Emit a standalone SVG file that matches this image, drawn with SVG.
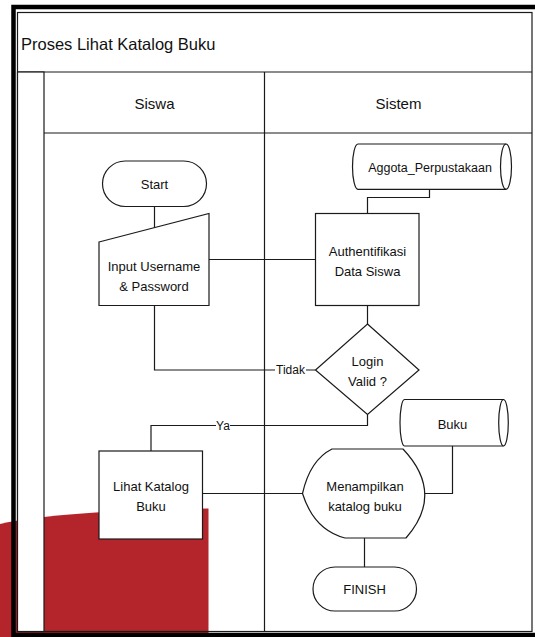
<svg xmlns="http://www.w3.org/2000/svg" width="535" height="637" viewBox="0 0 535 637">
<style>
  .s{fill:#fff;stroke:#1a1a1a;stroke-width:1.2}
  .n{fill:none;stroke:#1a1a1a;stroke-width:1.2}
  .ln{fill:none;stroke:#1a1a1a;stroke-width:1.2}
  text{font-family:"Liberation Sans",Arial,sans-serif;fill:#111;dominant-baseline:central}
  .t{font-size:13px;text-anchor:middle}
  .lbl{font-size:12px;text-anchor:middle}
  .hd{font-size:15px;text-anchor:middle}
</style>
<rect x="0" y="0" width="535" height="637" fill="#fff"/>
<path d="M 0 524 C 40 515 110 510 208.5 508.5 L 208.5 637 L 0 637 Z" fill="#b3242b"/>
<g id="pool">
  <rect x="13.5" y="7" width="530" height="628" fill="none" stroke="#000" stroke-width="4.5"/>
  <rect x="17.5" y="12.5" width="514.5" height="619" class="n"/>
  <line x1="17.5" y1="72" x2="532" y2="72" class="n"/>
  <rect x="17.5" y="72" width="26.5" height="559.5" class="s"/>
  <line x1="44" y1="133" x2="532" y2="133" class="n"/>
  <line x1="264.5" y1="72" x2="264.5" y2="631.5" class="n"/>
  <text x="21" y="44" style="font-size:16.5px">Proses Lihat Katalog Buku</text>
  <text x="154.5" y="103" class="hd">Siswa</text>
  <text x="398.5" y="103" class="hd">Sistem</text>
</g>
<g id="connectors">
  <line x1="154.5" y1="206.5" x2="154.5" y2="228" class="ln"/>
  <line x1="209" y1="259.5" x2="315.5" y2="259.5" class="ln"/>
  <polyline points="429.5,189.3 429.5,197.5 367.5,197.5 367.5,213.5" class="ln"/>
  <line x1="367.5" y1="305.5" x2="367.5" y2="324" class="ln"/>
  <polyline points="154.5,305.5 154.5,370 315.5,370" class="ln"/>
  <polyline points="367.5,414.5 367.5,425.5 151,425.5 151,451" class="ln"/>
  <line x1="202.5" y1="493.5" x2="302.5" y2="493.5" class="ln"/>
  <polyline points="425,493.5 452.5,493.5 452.5,446" class="ln"/>
  <line x1="364.5" y1="538" x2="364.5" y2="567" class="ln"/>
  <rect x="275" y="363" width="31" height="14" fill="#fff"/>
  <text x="290.5" y="370" class="lbl">Tidak</text>
  <rect x="216" y="418.5" width="14" height="14" fill="#fff"/>
  <text x="223" y="425.5" class="lbl">Ya</text>
</g>
<g id="start">
  <rect x="102.5" y="161" width="104" height="45.5" rx="22.75" class="s"/>
  <text x="154.5" y="184" class="t">Start</text>
</g>
<g id="input">
  <polygon points="99,242 209,213.5 209,305.5 99,305.5" class="s"/>
  <text x="154" y="266" class="t">Input Username</text>
  <text x="154" y="286" class="t">&amp; Password</text>
</g>
<g id="aggota">
  <path d="M 358 144 L 506 144 A 5.5 22.65 0 0 1 506 189.3 L 358 189.3 A 5.5 22.65 0 0 1 358 144 Z" class="s"/>
  <path d="M 506 144 A 5.5 22.65 0 0 0 506 189.3" class="n"/>
  <text x="430" y="168" class="t" style="font-size:12.5px">Aggota_Perpustakaan</text>
</g>
<g id="auth">
  <rect x="315.5" y="213.5" width="103.5" height="92" class="s"/>
  <text x="367.5" y="251" class="t">Authentifikasi</text>
  <text x="367.5" y="271" class="t">Data Siswa</text>
</g>
<g id="login">
  <polygon points="367.5,324 419,370 367.5,414.5 315.5,370" class="s"/>
  <text x="367.5" y="361" class="t">Login</text>
  <text x="367.5" y="381" class="t">Valid ?</text>
</g>
<g id="buku">
  <path d="M 404.5 399.5 L 503.5 399.5 A 4.8 23.25 0 0 1 503.5 446 L 404.5 446 A 4.5 23.25 0 0 1 404.5 399.5 Z" class="s"/>
  <path d="M 503.5 399.5 A 4.8 23.25 0 0 0 503.5 446" class="n"/>
  <text x="452.5" y="424" class="t">Buku</text>
</g>
<g id="lihat">
  <rect x="99" y="451" width="103.5" height="88" class="s"/>
  <text x="151" y="486" class="t">Lihat Katalog</text>
  <text x="151" y="506" class="t">Buku</text>
</g>
<g id="display">
  <path d="M 332 449 L 403 449 Q 445 493.5 406 538 L 345 538 Q 314 530 302.5 493.5 Q 310 460 332 449 Z" class="s"/>
  <text x="365" y="486" class="t">Menampilkan</text>
  <text x="365" y="506" class="t">katalog buku</text>
</g>
<g id="finish">
  <rect x="313" y="567" width="103.5" height="44" rx="22" class="s"/>
  <text x="364.5" y="589" class="t">FINISH</text>
</g>
</svg>
